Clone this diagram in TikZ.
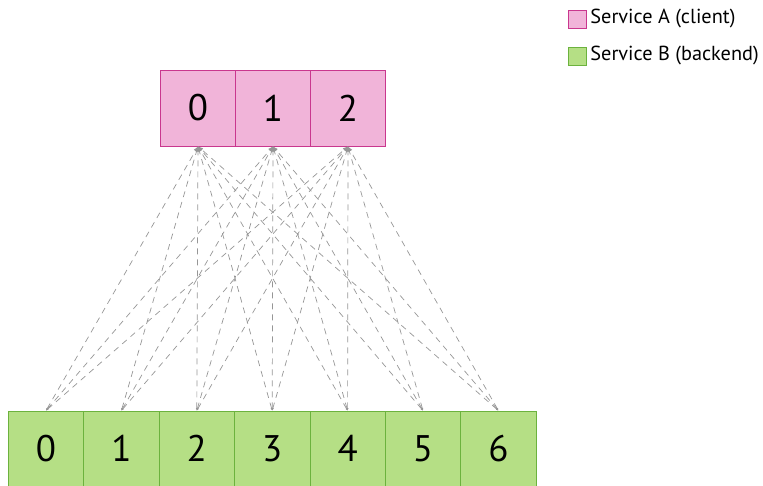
\documentclass[tikz,border=0pt]{standalone}
\usepackage{fontspec}
\setmainfont{PT Sans}
\usepackage{tikz}
\usetikzlibrary{arrows.meta, positioning}
\definecolor{clientfill}{RGB}{241,180,217}
\definecolor{clientdraw}{RGB}{201,55,142}
\definecolor{backendfill}{RGB}{181,223,133}
\definecolor{backenddraw}{RGB}{108,178,62}
\definecolor{linkgray}{RGB}{150,150,150}
\tikzstyle{client} = [draw=clientdraw, fill=clientfill, rectangle, line width=0.8pt, minimum width=75pt, minimum height=76pt, font=\fontsize{37}{37}\selectfont]
\tikzstyle{backend} = [draw=backenddraw, fill=backendfill, rectangle, line width=0.8pt, minimum width=75.4pt, minimum height=75pt, font=\fontsize{37}{37}\selectfont]
\tikzstyle{key} = [draw, rectangle, line width=0.8pt, minimum size=18pt, inner sep=0pt]
\tikzstyle{keytext} = [font=\fontsize{20.3}{20.3}\selectfont]
\tikzstyle{link} = [draw=linkgray, line width=0.7pt, dash pattern=on 6pt off 5pt, {Latex[length=2.5pt,width=2pt]}-{Latex[length=5pt,width=4pt]}]

\begin{document}
\begin{tikzpicture}[x=1pt, y=-1pt, node distance=75pt]
    \useasboundingbox (0,0) rectangle (763,485);

    % 客户端节点
    \node [client] (a0) at (198,108) {0};
    \node [client, right of=a0] (a1) {1};
    \node [client, right of=a1] (a2) {2};

    % 后端节点
    \node [backend] (b0) at (46,448.5) {0};
    \node [backend, right of=b0, node distance=75.4pt] (b1) {1};
    \node [backend, right of=b1, node distance=75.4pt] (b2) {2};
    \node [backend, right of=b2, node distance=75.4pt] (b3) {3};
    \node [backend, right of=b3, node distance=75.4pt] (b4) {4};
    \node [backend, right of=b4, node distance=75.4pt] (b5) {5};
    \node [backend, right of=b5, node distance=75.4pt] (b6) {6};

    % 图例
    \node [key, draw=clientdraw, fill=clientfill] (keyA) at (577,19) {};
    \node [keytext, right=0.5pt of keyA] (keyAtext) {Service A (client)};
    \node [key, draw=backenddraw, fill=backendfill] (keyB) at (577,56) {};
    \node [keytext, right=0.5pt of keyB] (keyBtext) {Service B (backend)};

    % 连接
    \foreach \i in {0,1,2}
        \foreach \j in {0,...,6}
            \draw [link] (b\j.north) -- (a\i.south);
\end{tikzpicture}
\end{document}
